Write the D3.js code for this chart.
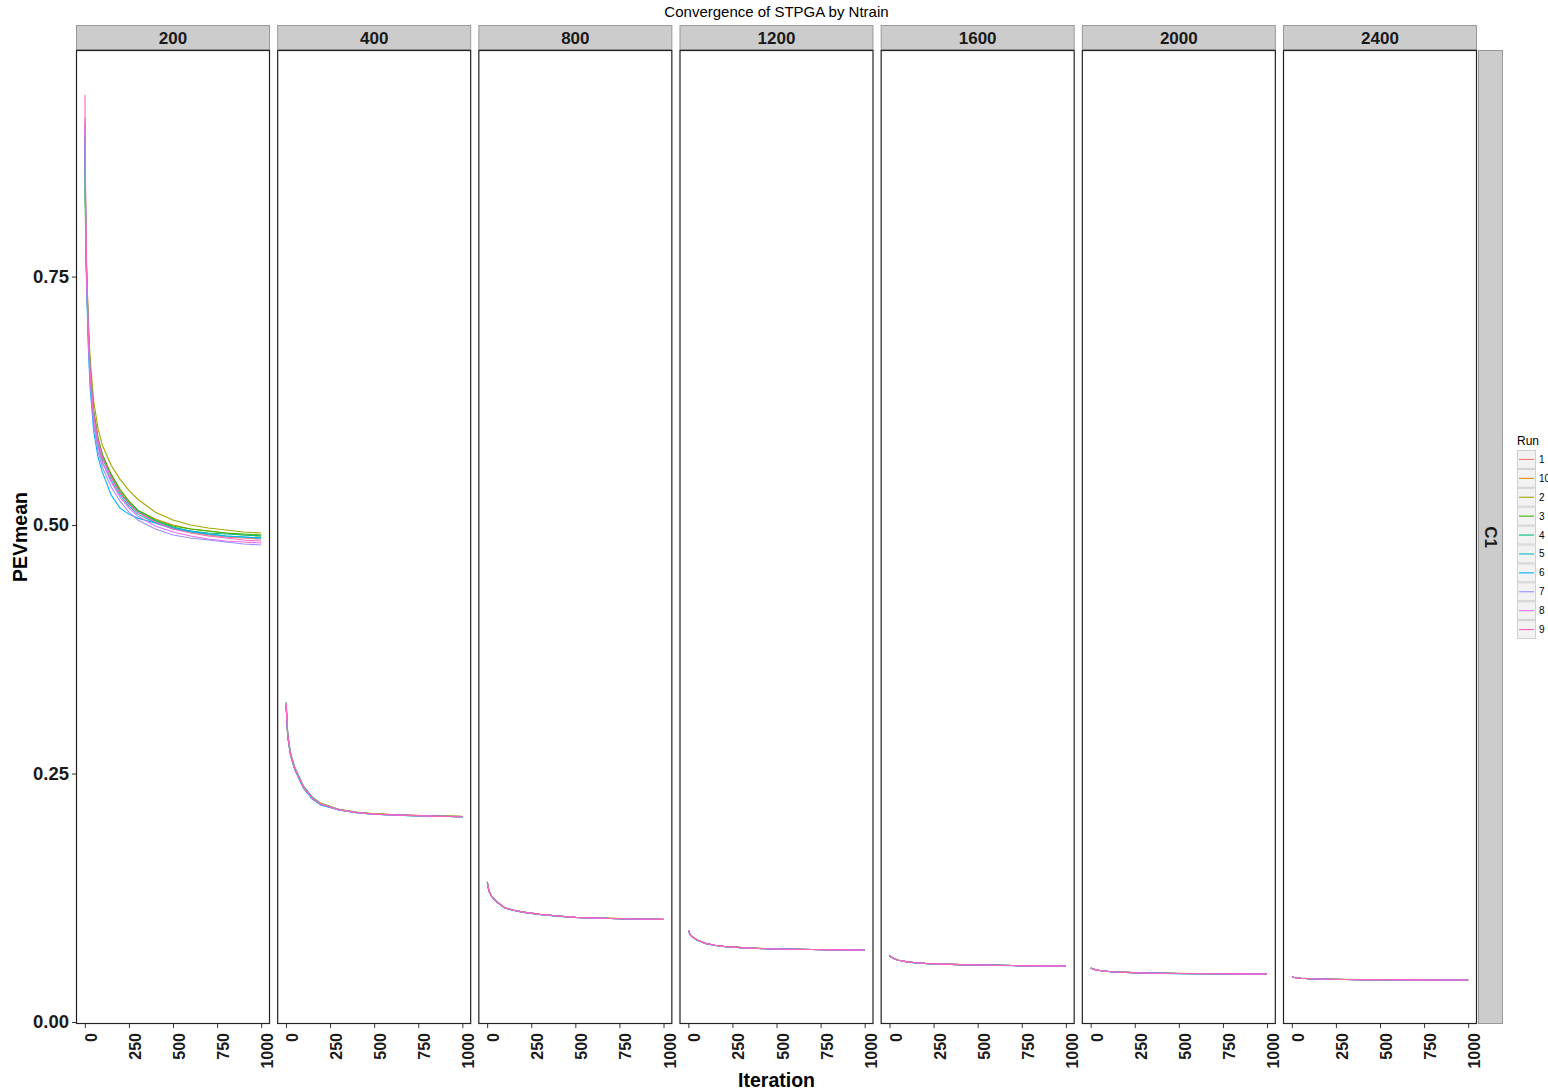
<!DOCTYPE html>
<html>
<head>
<meta charset="utf-8">
<script src="https://cdn.jsdelivr.net/npm/d3@7"></script>
<style>
  body { margin: 0; background: #fff; }
  text { font-family: "Liberation Sans", Arial, Helvetica, sans-serif; }
</style>
</head>
<body>
<svg id="chart" width="1548" height="1090"></svg>
<script>
// facets and series
const ntrains = ["200", "400", "800", "1200", "1600", "2000", "2400"];
const runs = ["1", "10", "2", "3", "4", "5", "6", "7", "8", "9"];
const runColors = ["#F8766D", "#D89000", "#A3A500", "#39B600", "#00BF7D", "#00BFC4", "#00B0F6", "#9590FF", "#E76BF3", "#FF62BC"];
const yTicks = [0, 0.25, 0.5, 0.75];
const xTicks = [0, 250, 500, 750, 1000];

// iterations
const iters200 = [1, 5, 10, 20, 30, 50, 75, 100, 150, 200, 250, 300, 400, 500, 600, 700, 800, 900, 1000];
const itersBig = [1, 10, 25, 50, 100, 150, 200, 300, 400, 500, 700, 850, 1000];

// PEVmean per run (order as in runs)
const pev200 = [
  [0.905, 0.810, 0.760, 0.700, 0.660, 0.615, 0.587, 0.570, 0.549, 0.533, 0.521, 0.513, 0.503, 0.497, 0.493, 0.490, 0.488, 0.487, 0.486],
  [0.890, 0.800, 0.752, 0.695, 0.655, 0.612, 0.585, 0.569, 0.550, 0.535, 0.524, 0.515, 0.506, 0.500, 0.496, 0.494, 0.492, 0.490, 0.489],
  [0.870, 0.800, 0.760, 0.705, 0.668, 0.625, 0.597, 0.580, 0.560, 0.546, 0.535, 0.526, 0.513, 0.505, 0.500, 0.497, 0.495, 0.493, 0.492],
  [0.840, 0.785, 0.748, 0.695, 0.658, 0.615, 0.588, 0.571, 0.551, 0.536, 0.524, 0.515, 0.505, 0.499, 0.496, 0.494, 0.492, 0.491, 0.490],
  [0.880, 0.795, 0.750, 0.692, 0.654, 0.611, 0.584, 0.567, 0.548, 0.533, 0.522, 0.514, 0.504, 0.498, 0.494, 0.492, 0.491, 0.490, 0.489],
  [0.895, 0.805, 0.755, 0.693, 0.652, 0.607, 0.580, 0.563, 0.545, 0.530, 0.519, 0.511, 0.502, 0.496, 0.493, 0.491, 0.489, 0.488, 0.487],
  [0.885, 0.790, 0.740, 0.678, 0.638, 0.595, 0.568, 0.553, 0.530, 0.517, 0.511, 0.507, 0.502, 0.497, 0.494, 0.491, 0.489, 0.488, 0.487],
  [0.900, 0.800, 0.748, 0.685, 0.645, 0.600, 0.574, 0.558, 0.538, 0.524, 0.513, 0.505, 0.496, 0.490, 0.487, 0.485, 0.483, 0.481, 0.480],
  [0.910, 0.805, 0.752, 0.690, 0.650, 0.606, 0.579, 0.563, 0.543, 0.528, 0.517, 0.509, 0.499, 0.493, 0.489, 0.486, 0.484, 0.483, 0.482],
  [0.933, 0.815, 0.758, 0.697, 0.657, 0.612, 0.585, 0.568, 0.548, 0.532, 0.521, 0.513, 0.503, 0.496, 0.492, 0.489, 0.487, 0.485, 0.484]
];
const pev400 = [
  [0.318, 0.288, 0.270, 0.255, 0.236, 0.226, 0.219, 0.2135, 0.2108, 0.2092, 0.2079, 0.2072, 0.2067],
  [0.316, 0.287, 0.269, 0.254, 0.236, 0.225, 0.219, 0.2138, 0.2110, 0.2094, 0.2080, 0.2073, 0.2068],
  [0.319, 0.289, 0.271, 0.256, 0.237, 0.226, 0.220, 0.2140, 0.2112, 0.2095, 0.2081, 0.2074, 0.2069],
  [0.317, 0.288, 0.270, 0.255, 0.236, 0.225, 0.219, 0.2136, 0.2109, 0.2093, 0.2079, 0.2072, 0.2067],
  [0.322, 0.290, 0.271, 0.256, 0.237, 0.226, 0.219, 0.2137, 0.2108, 0.2091, 0.2077, 0.2070, 0.2064],
  [0.320, 0.288, 0.269, 0.254, 0.235, 0.225, 0.219, 0.2134, 0.2107, 0.2091, 0.2078, 0.2071, 0.2066],
  [0.318, 0.287, 0.269, 0.254, 0.235, 0.224, 0.218, 0.2133, 0.2106, 0.2090, 0.2077, 0.2070, 0.2065],
  [0.320, 0.289, 0.270, 0.255, 0.236, 0.225, 0.219, 0.2135, 0.2107, 0.2091, 0.2078, 0.2071, 0.2066],
  [0.319, 0.288, 0.270, 0.255, 0.236, 0.225, 0.219, 0.2136, 0.2108, 0.2092, 0.2079, 0.2072, 0.2067],
  [0.321, 0.289, 0.270, 0.255, 0.236, 0.225, 0.219, 0.2136, 0.2108, 0.2092, 0.2078, 0.2071, 0.2066]
];
const pev800 = [
  [0.140, 0.132, 0.1265, 0.1215, 0.1148, 0.1125, 0.1107, 0.1083, 0.1066, 0.1053, 0.1042, 0.1037, 0.1033],
  [0.139, 0.1315, 0.1263, 0.1214, 0.1147, 0.1124, 0.1106, 0.1083, 0.1066, 0.1054, 0.1043, 0.1038, 0.1034],
  [0.141, 0.1322, 0.1268, 0.1218, 0.1150, 0.1126, 0.1108, 0.1084, 0.1067, 0.1054, 0.1043, 0.1037, 0.1033],
  [0.140, 0.1318, 0.1266, 0.1216, 0.1149, 0.1125, 0.1107, 0.1083, 0.1066, 0.1053, 0.1042, 0.1037, 0.1032],
  [0.1405, 0.132, 0.1267, 0.1217, 0.1148, 0.1124, 0.1106, 0.1082, 0.1065, 0.1053, 0.1042, 0.1036, 0.1032],
  [0.141, 0.1321, 0.1266, 0.1215, 0.1147, 0.1124, 0.1106, 0.1082, 0.1065, 0.1052, 0.1041, 0.1036, 0.1032],
  [0.1395, 0.1316, 0.1263, 0.1213, 0.1146, 0.1123, 0.1105, 0.1082, 0.1065, 0.1052, 0.1042, 0.1036, 0.1032],
  [0.140, 0.1318, 0.1265, 0.1215, 0.1147, 0.1124, 0.1106, 0.1083, 0.1066, 0.1053, 0.1042, 0.1037, 0.1033],
  [0.1405, 0.1319, 0.1266, 0.1216, 0.1148, 0.1125, 0.1107, 0.1083, 0.1066, 0.1053, 0.1042, 0.1037, 0.1033],
  [0.1412, 0.1320, 0.1266, 0.1216, 0.1148, 0.1125, 0.1107, 0.1083, 0.1066, 0.1053, 0.1042, 0.1036, 0.1032]
];
const pev1200 = [
  [0.0918, 0.0878, 0.0853, 0.0824, 0.0790, 0.0772, 0.0761, 0.0748, 0.0740, 0.0735, 0.0729, 0.0726, 0.0724],
  [0.0912, 0.0876, 0.0852, 0.0823, 0.0789, 0.0772, 0.0761, 0.0748, 0.0741, 0.0736, 0.0730, 0.0727, 0.0725],
  [0.0922, 0.0882, 0.0856, 0.0826, 0.0791, 0.0773, 0.0762, 0.0749, 0.0741, 0.0736, 0.0730, 0.0727, 0.0725],
  [0.0916, 0.0879, 0.0854, 0.0824, 0.0790, 0.0772, 0.0761, 0.0748, 0.0740, 0.0735, 0.0729, 0.0726, 0.0724],
  [0.0925, 0.0881, 0.0855, 0.0825, 0.0790, 0.0772, 0.0761, 0.0748, 0.0740, 0.0735, 0.0729, 0.0726, 0.0724],
  [0.0920, 0.0880, 0.0854, 0.0824, 0.0789, 0.0771, 0.0760, 0.0747, 0.0740, 0.0735, 0.0729, 0.0726, 0.0724],
  [0.0914, 0.0877, 0.0852, 0.0822, 0.0788, 0.0771, 0.0760, 0.0747, 0.0739, 0.0734, 0.0729, 0.0726, 0.0724],
  [0.0919, 0.0879, 0.0854, 0.0824, 0.0790, 0.0772, 0.0761, 0.0748, 0.0740, 0.0735, 0.0729, 0.0726, 0.0724],
  [0.0921, 0.0880, 0.0855, 0.0825, 0.0790, 0.0772, 0.0761, 0.0748, 0.0740, 0.0735, 0.0729, 0.0726, 0.0724],
  [0.0926, 0.0880, 0.0855, 0.0825, 0.0790, 0.0772, 0.0761, 0.0748, 0.0740, 0.0735, 0.0729, 0.0726, 0.0724]
];
const pev1600 = [
  [0.0668, 0.0654, 0.0638, 0.0622, 0.0605, 0.0596, 0.0590, 0.0582, 0.0577, 0.0573, 0.0568, 0.0565, 0.0563],
  [0.0664, 0.0652, 0.0637, 0.0621, 0.0605, 0.0596, 0.0590, 0.0582, 0.0577, 0.0573, 0.0568, 0.0566, 0.0564],
  [0.0672, 0.0656, 0.0640, 0.0623, 0.0606, 0.0597, 0.0591, 0.0583, 0.0578, 0.0574, 0.0569, 0.0566, 0.0564],
  [0.0666, 0.0653, 0.0638, 0.0622, 0.0605, 0.0596, 0.0590, 0.0582, 0.0577, 0.0573, 0.0568, 0.0565, 0.0563],
  [0.0670, 0.0655, 0.0639, 0.0622, 0.0605, 0.0596, 0.0590, 0.0582, 0.0577, 0.0573, 0.0568, 0.0565, 0.0563],
  [0.0669, 0.0654, 0.0638, 0.0621, 0.0604, 0.0595, 0.0589, 0.0581, 0.0576, 0.0572, 0.0568, 0.0565, 0.0563],
  [0.0665, 0.0652, 0.0637, 0.0621, 0.0604, 0.0595, 0.0589, 0.0581, 0.0576, 0.0572, 0.0567, 0.0565, 0.0563],
  [0.0668, 0.0654, 0.0638, 0.0622, 0.0605, 0.0596, 0.0590, 0.0582, 0.0577, 0.0573, 0.0568, 0.0565, 0.0563],
  [0.0669, 0.0654, 0.0638, 0.0622, 0.0605, 0.0596, 0.0590, 0.0582, 0.0577, 0.0573, 0.0568, 0.0565, 0.0563],
  [0.0671, 0.0655, 0.0638, 0.0622, 0.0605, 0.0596, 0.0590, 0.0582, 0.0577, 0.0573, 0.0568, 0.0565, 0.0563]
];
const pev2000 = [
  [0.0544, 0.0535, 0.0527, 0.0519, 0.0509, 0.0503, 0.0499, 0.0493, 0.0490, 0.0488, 0.0485, 0.0484, 0.0483],
  [0.0541, 0.0534, 0.0527, 0.0519, 0.0509, 0.0503, 0.0499, 0.0494, 0.0491, 0.0488, 0.0486, 0.0485, 0.0484],
  [0.0547, 0.0537, 0.0528, 0.0520, 0.0510, 0.0504, 0.0500, 0.0494, 0.0491, 0.0489, 0.0486, 0.0485, 0.0484],
  [0.0543, 0.0535, 0.0527, 0.0519, 0.0509, 0.0503, 0.0499, 0.0493, 0.0490, 0.0488, 0.0485, 0.0484, 0.0483],
  [0.0546, 0.0536, 0.0528, 0.0519, 0.0509, 0.0503, 0.0499, 0.0493, 0.0490, 0.0488, 0.0485, 0.0484, 0.0483],
  [0.0545, 0.0535, 0.0527, 0.0518, 0.0508, 0.0502, 0.0498, 0.0493, 0.0490, 0.0487, 0.0485, 0.0484, 0.0483],
  [0.0542, 0.0534, 0.0526, 0.0518, 0.0508, 0.0502, 0.0498, 0.0493, 0.0489, 0.0487, 0.0485, 0.0484, 0.0483],
  [0.0544, 0.0535, 0.0527, 0.0519, 0.0509, 0.0503, 0.0499, 0.0493, 0.0490, 0.0488, 0.0485, 0.0484, 0.0483],
  [0.0545, 0.0535, 0.0527, 0.0519, 0.0509, 0.0503, 0.0499, 0.0493, 0.0490, 0.0488, 0.0485, 0.0484, 0.0483],
  [0.0546, 0.0536, 0.0527, 0.0519, 0.0509, 0.0503, 0.0499, 0.0493, 0.0490, 0.0488, 0.0485, 0.0484, 0.0483]
];
const pev2400 = [
  [0.0454, 0.0450, 0.0446, 0.0441, 0.0436, 0.0433, 0.0431, 0.0428, 0.0426, 0.0425, 0.0424, 0.0423, 0.0423],
  [0.0452, 0.0449, 0.0446, 0.0441, 0.0436, 0.0433, 0.0431, 0.0428, 0.0427, 0.0426, 0.0425, 0.0424, 0.0424],
  [0.0457, 0.0451, 0.0447, 0.0442, 0.0437, 0.0434, 0.0432, 0.0429, 0.0427, 0.0426, 0.0425, 0.0424, 0.0424],
  [0.0454, 0.0450, 0.0446, 0.0441, 0.0436, 0.0433, 0.0431, 0.0428, 0.0426, 0.0425, 0.0424, 0.0423, 0.0423],
  [0.0456, 0.0451, 0.0446, 0.0441, 0.0436, 0.0433, 0.0431, 0.0428, 0.0426, 0.0425, 0.0424, 0.0423, 0.0423],
  [0.0455, 0.0450, 0.0446, 0.0441, 0.0436, 0.0433, 0.0430, 0.0428, 0.0426, 0.0425, 0.0424, 0.0423, 0.0423],
  [0.0453, 0.0449, 0.0445, 0.0440, 0.0435, 0.0432, 0.0430, 0.0427, 0.0426, 0.0425, 0.0424, 0.0423, 0.0423],
  [0.0454, 0.0450, 0.0446, 0.0441, 0.0436, 0.0433, 0.0431, 0.0428, 0.0426, 0.0425, 0.0424, 0.0423, 0.0423],
  [0.0455, 0.0450, 0.0446, 0.0441, 0.0436, 0.0433, 0.0431, 0.0428, 0.0426, 0.0425, 0.0424, 0.0423, 0.0423],
  [0.0456, 0.0450, 0.0446, 0.0441, 0.0436, 0.0433, 0.0431, 0.0428, 0.0426, 0.0425, 0.0424, 0.0423, 0.0423]
];

const panels = [
  { n: "200", iters: iters200, runs: pev200 },
  { n: "400", iters: itersBig, runs: pev400 },
  { n: "800", iters: itersBig, runs: pev800 },
  { n: "1200", iters: itersBig, runs: pev1200 },
  { n: "1600", iters: itersBig, runs: pev1600 },
  { n: "2000", iters: itersBig, runs: pev2000 },
  { n: "2400", iters: itersBig, runs: pev2400 }
];

const svg = d3.select("#chart");

const plotTop = 50, plotBottom = 1024, plotLeft = 76, plotRight = 1477;

// facet positions
const fx = d3.scaleBand().domain(ntrains).range([plotLeft, plotRight]).paddingInner(0.0356).paddingOuter(0);
const pw = fx.bandwidth();

const y = d3.scaleLinear().domain([-0.002, 0.978]).range([plotBottom, plotTop]);
const color = d3.scaleOrdinal().domain(runs).range(runColors);

// title
svg.append("text")
    .attr("x", (plotLeft + plotRight) / 2).attr("y", 17)
    .attr("text-anchor", "middle")
    .style("font-size", "15px")
    .text("Convergence of STPGA by Ntrain");

panels.forEach(function (p) {
    const x0 = fx(p.n);
    const x = d3.scaleLinear().domain([-50, 1050]).range([x0, x0 + pw]);

    // strip
    svg.append("rect")
        .attr("x", x0 + 0.5).attr("y", 25.5)
        .attr("width", pw - 1).attr("height", 24)
        .attr("fill", "#cccccc").attr("stroke", "#999").attr("stroke-width", 1);
    svg.append("text")
        .attr("x", x0 + pw / 2).attr("y", 44)
        .attr("text-anchor", "middle")
        .style("font-size", "17px").style("font-weight", "bold").style("fill", "#1a1a1a")
        .text(p.n);

    const line = d3.line()
        .x(function (d, i) { return x(p.iters[i]); })
        .y(function (d) { return y(d); });

    const g = svg.append("g");
    p.runs.forEach(function (vals, r) {
        g.append("path")
            .datum(vals)
            .attr("fill", "none")
            .attr("stroke", color(runs[r]))
            .attr("stroke-width", 1.1)
            .attr("d", line);
    });

    svg.append("rect")
        .attr("x", x0 + 0.5).attr("y", plotTop + 0.5)
        .attr("width", pw - 1).attr("height", plotBottom - plotTop - 1)
        .attr("fill", "none").attr("stroke", "#222").attr("stroke-width", 1.2);

    // x axis
    const ax = svg.append("g").attr("transform", "translate(0," + plotBottom + ")")
        .call(d3.axisBottom(x).tickValues(xTicks).tickSize(4).tickSizeOuter(0).tickFormat(d3.format("d")));
    ax.select(".domain").remove();
    ax.selectAll(".tick line").attr("stroke", "#333");
    ax.selectAll(".tick text")
        .attr("transform", "rotate(-90)")
        .attr("x", -9).attr("y", 0).attr("dy", "0.72em")
        .attr("text-anchor", "end")
        .style("font-family", "'Liberation Sans', Arial, sans-serif")
        .style("font-size", "16px").style("font-weight", "bold").style("fill", "#1a1a1a");
});

// y axis on first panel
const ay = svg.append("g").attr("transform", "translate(" + plotLeft + ",0)")
    .call(d3.axisLeft(y).tickValues(yTicks).tickSize(4).tickSizeOuter(0).tickFormat(d3.format(".2f")));
ay.select(".domain").remove();
ay.selectAll(".tick line").attr("stroke", "#333");
ay.selectAll(".tick text")
    .attr("x", -7)
    .style("font-family", "'Liberation Sans', Arial, sans-serif")
    .style("font-size", "18.5px").style("font-weight", "bold").style("fill", "#1a1a1a");

// right strip
svg.append("rect")
    .attr("x", plotRight + 1.5).attr("y", plotTop + 0.5)
    .attr("width", 24).attr("height", plotBottom - plotTop - 1)
    .attr("fill", "#cccccc").attr("stroke", "#999");
svg.append("text")
    .attr("transform", "translate(" + (plotRight + 8) + "," + ((plotTop + plotBottom) / 2) + ") rotate(90)")
    .attr("text-anchor", "middle")
    .style("font-size", "17px").style("font-weight", "bold").style("fill", "#1a1a1a")
    .text("C1");

// axis titles
svg.append("text")
    .attr("x", (plotLeft + plotRight) / 2).attr("y", 1087)
    .attr("text-anchor", "middle")
    .style("font-size", "19.5px").style("font-weight", "bold")
    .text("Iteration");
svg.append("text")
    .attr("transform", "translate(27," + ((plotTop + plotBottom) / 2) + ") rotate(-90)")
    .attr("text-anchor", "middle")
    .style("font-size", "19.5px").style("font-weight", "bold")
    .text("PEVmean");

// legend
const lg = svg.append("g").attr("transform", "translate(1517,450)");
lg.append("text").attr("x", 0).attr("y", -5)
    .style("font-size", "12px").text("Run");
const keyH = 18.9;
runs.forEach(function (r, i) {
    const k = lg.append("g").attr("transform", "translate(0," + (i * keyH) + ")");
    k.append("rect").attr("x", 0.5).attr("y", 0.5).attr("width", 18).attr("height", keyH - 1)
        .attr("fill", "#f2f2f2").attr("stroke", "#d0d0d0");
    k.append("line").attr("x1", 2).attr("x2", 17).attr("y1", keyH / 2).attr("y2", keyH / 2)
        .attr("stroke", color(r)).attr("stroke-width", 1.1);
    k.append("text").attr("x", 22).attr("y", keyH / 2 + 3.5)
        .style("font-size", "10px").text(r);
});
</script>
</body>
</html>
